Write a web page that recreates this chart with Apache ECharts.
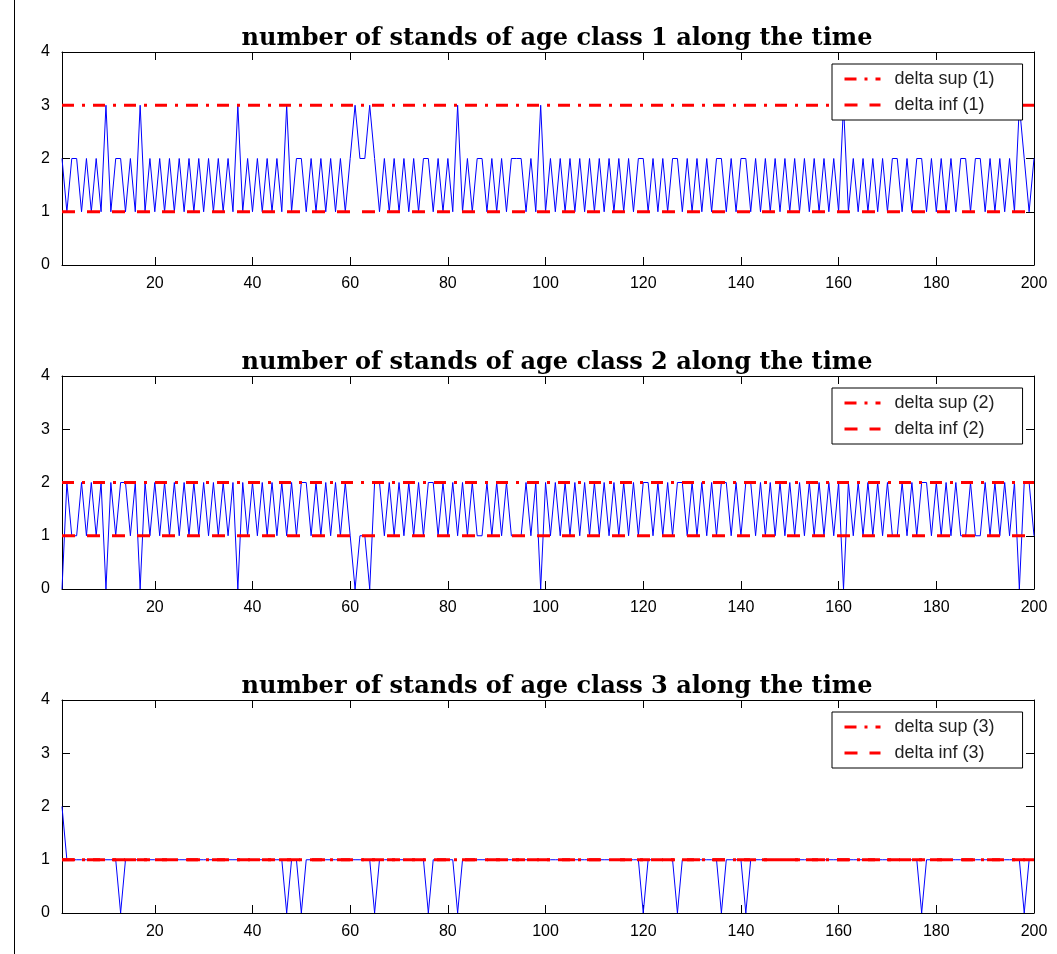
<!DOCTYPE html>
<html>
<head>
    <meta charset="utf-8">
    <title>stands of age class</title>
    <script src="https://cdn.jsdelivr.net/npm/echarts@6/dist/echarts.min.js"></script>
    <style type="text/css">
        * { margin: 0; padding: 0; }
        body { background: #fff; }
    </style>
</head>
<body>
<div id="main" style="width: 1057px; height: 954px;"></div>
<script type="text/javascript">
    // number of stands per age class, time steps 1..200
    var ageClass1 = [
        2,1,2,2,1,2,1,2,1,3, 1,2,2,1,2,1,3,1,2,1, 2,1,2,1,2,1,2,1,2,1, 2,1,2,1,2,1,3,1,2,1,
        2,1,2,1,2,1,3,1,2,2, 1,2,1,2,1,2,1,2,1,2, 3,2,2,3,2,1,2,1,2,1, 2,1,2,1,2,2,1,2,1,2,
        1,3,1,2,1,2,2,1,2,1, 2,1,2,2,2,1,2,1,3,1, 2,1,2,1,2,1,2,1,2,1, 2,1,2,1,2,1,2,1,2,2,
        1,2,1,2,1,2,2,1,2,1, 2,1,2,1,2,2,1,2,1,2, 2,1,2,1,2,1,2,1,2,1, 2,1,2,1,2,1,2,1,2,1,
        3,1,2,1,2,1,2,1,2,1, 2,2,1,2,1,2,2,1,2,1, 2,1,2,1,2,2,1,2,2,1, 2,1,2,1,2,1,3,2,1,2
    ];
    var ageClass2 = [
        0,2,1,1,2,1,2,1,2,0, 2,1,2,2,1,2,0,2,1,2, 1,2,1,2,1,2,1,2,1,2, 1,2,1,2,1,2,0,2,1,2,
        1,2,1,2,1,2,1,2,1,2, 2,1,2,1,2,1,2,1,2,1, 0,1,1,0,2,2,1,2,1,2, 1,2,1,2,1,2,2,1,2,1,
        2,1,2,1,2,1,1,2,1,2, 1,2,1,1,1,2,1,2,0,2, 1,2,1,2,1,2,1,2,1,2, 1,2,1,2,1,2,1,2,1,2,
        2,1,2,1,2,1,2,2,1,2, 1,2,1,2,1,2,2,1,2,1, 2,2,1,2,1,2,1,2,1,2, 1,2,1,2,1,2,1,2,1,2,
        0,2,1,2,1,2,1,2,1,2, 1,1,2,1,2,1,2,2,1,2, 1,2,1,2,1,1,2,1,1,2, 1,2,1,2,1,2,0,2,2,1
    ];
    var ageClass3 = [
        2,1,1,1,1,1,1,1,1,1, 1,1,0,1,1,1,1,1,1,1, 1,1,1,1,1,1,1,1,1,1, 1,1,1,1,1,1,1,1,1,1,
        1,1,1,1,1,1,0,1,1,0, 1,1,1,1,1,1,1,1,1,1, 1,1,1,1,0,1,1,1,1,1, 1,1,1,1,1,0,1,1,1,1,
        1,0,1,1,1,1,1,1,1,1, 1,1,1,1,1,1,1,1,1,1, 1,1,1,1,1,1,1,1,1,1, 1,1,1,1,1,1,1,1,1,0,
        1,1,1,1,1,1,0,1,1,1, 1,1,1,1,1,0,1,1,1,1, 0,1,1,1,1,1,1,1,1,1, 1,1,1,1,1,1,1,1,1,1,
        1,1,1,1,1,1,1,1,1,1, 1,1,1,1,1,1,0,1,1,1, 1,1,1,1,1,1,1,1,1,1, 1,1,1,1,1,1,1,0,1,1
    ];
    var deltaSup = [3, 2, 1];
    var deltaInf = [1, 1, 1];
    var xTicks = [20, 40, 60, 80, 100, 120, 140, 160, 180, 200];
    var yTicks = [0, 1, 2, 3, 4];
    var tStart = 1, tEnd = 200;

    var classes = [ageClass1, ageClass2, ageClass3];
    var gridTops = [52, 376, 700];
    var gridH = 213;
    var fontAxis = 'Liberation Sans';

    var myChart = echarts.init(document.getElementById('main'));

    var grids = [], xAxes = [], yAxes = [], series = [], legends = [], graphics = [];

    classes.forEach(function (vals, k) {
        grids.push({ left: 62, width: 972, top: gridTops[k], height: gridH });

        var xBase = {
            gridIndex: k, type: 'value', min: tStart, max: tEnd,
            axisLine: { onZero: false, lineStyle: { color: '#000', width: 1 } },
            axisTick: { inside: true, length: 8, customValues: xTicks, lineStyle: { color: '#000' } },
            splitLine: { show: false }
        };
        xAxes.push(Object.assign({}, xBase, {
            position: 'bottom',
            axisLabel: { customValues: xTicks, color: '#000', fontFamily: fontAxis, fontSize: 16, margin: 11 }
        }));
        xAxes.push(Object.assign({}, xBase, { position: 'top', axisLabel: { show: false } }));

        var yBase = {
            gridIndex: k, type: 'value', min: 0, max: 4, interval: 1,
            axisLine: { show: true, onZero: false, lineStyle: { color: '#000', width: 1 } },
            axisTick: { show: true, inside: true, length: 8, lineStyle: { color: '#000' } },
            splitLine: { show: false }
        };
        yAxes.push(Object.assign({}, yBase, {
            position: 'left',
            axisLabel: { color: '#000', fontFamily: fontAxis, fontSize: 16, margin: 12,
                formatter: function (v) { return yTicks.indexOf(v) >= 0 ? String(v) : ''; } }
        }));
        yAxes.push(Object.assign({}, yBase, { position: 'right', axisLabel: { show: false } }));

        var pts = vals.map(function (v, i) { return [tStart + i, v]; });
        series.push({
            name: 'stands ' + (k + 1), type: 'line', xAxisIndex: 2 * k, yAxisIndex: 2 * k,
            data: pts, symbol: 'none', lineStyle: { color: '#0000ff', width: 1 }, z: 2
        });
        var supName = 'delta sup (' + (k + 1) + ')';
        var infName = 'delta inf (' + (k + 1) + ')';
        series.push({
            name: supName, type: 'line', xAxisIndex: 2 * k, yAxisIndex: 2 * k,
            data: [[tStart, deltaSup[k]], [tEnd, deltaSup[k]]], symbol: 'none', color: '#ff0000',
            lineStyle: { color: '#ff0000', width: 3, type: [12, 8, 3, 8] }, z: 3
        });
        series.push({
            name: infName, type: 'line', xAxisIndex: 2 * k, yAxisIndex: 2 * k,
            data: [[tStart, deltaInf[k]], [tEnd, deltaInf[k]]], symbol: 'none', color: '#ff0000',
            lineStyle: { color: '#ff0000', width: 3, type: [13, 12] }, z: 3
        });

        legends.push({
            data: [supName, infName], orient: 'vertical', left: 832, top: gridTops[k] + 12,
            backgroundColor: '#fff', borderColor: '#000', borderWidth: 1, borderRadius: 0,
            padding: [6, 28, 6, 11], itemWidth: 36, itemHeight: 12, itemGap: 8,
            itemStyle: { opacity: 0 },
            lineStyle: { width: 3 },
            textStyle: { color: '#222', fontFamily: fontAxis, fontSize: 18, padding: [0, 0, 0, 9] },
            selectedMode: false
        });

        graphics.push({
            type: 'text', x: 557, y: gridTops[k] - 13,
            style: {
                text: 'number of stands of age class ' + (k + 1) + ' along the time',
                font: 'bold 24px "DejaVu Serif"', fill: '#000',
                textAlign: 'center', textVerticalAlign: 'middle'
            }
        });
    });

    // figure frame on the left
    graphics.push({ type: 'line', shape: { x1: 14.5, y1: 0, x2: 14.5, y2: 954 }, style: { stroke: '#000', lineWidth: 1 } });

    var option = {
        animation: false,
        backgroundColor: '#fff',
        grid: grids,
        xAxis: xAxes,
        yAxis: yAxes,
        legend: legends,
        series: series,
        graphic: graphics
    };
    myChart.setOption(option);

    window.addEventListener('resize', function () {
        myChart.resize();
    });
</script>
</body>
</html>
